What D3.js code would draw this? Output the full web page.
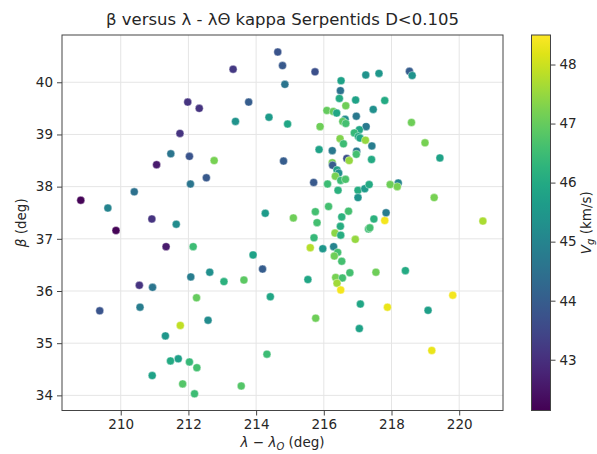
<!DOCTYPE html>
<html><head><meta charset="utf-8">
<script src="https://cdn.jsdelivr.net/npm/d3@7"></script>
<style>body{margin:0;background:#fff;} svg{display:block;font-family:"DejaVu Sans",sans-serif;}</style>
</head><body>
<svg id="c" width="597" height="454"></svg>
<script>
const lam = [214.64,214.78,213.32,214.85,211.98,212.32,213.78,213.39,214.38,214.93,211.75,211.48,212.03,211.06,212.76,214.81,212.53,212.06,210.40,208.82,209.62,210.92,211.64,209.86,214.27,215.10,211.34,212.14,213.91,214.19,212.07,212.63,213.05,213.64,210.55,210.94,212.24,214.42,209.38,210.57,212.58,211.76,211.32,214.32,211.47,211.70,212.03,212.25,210.93,211.83,213.56,212.18,
215.74,216.51,217.24,217.63,216.49,216.46,216.94,217.80,216.65,216.09,216.28,216.38,217.46,216.96,216.63,216.56,216.65,215.89,217.25,217.05,216.90,217.02,217.07,217.23,216.48,216.58,217.42,215.86,216.25,216.97,216.96,216.68,216.75,217.41,216.25,216.26,216.39,216.44,216.34,216.50,216.64,215.70,216.11,216.42,217.01,217.21,217.34,217.01,217.96,218.20,218.17,216.14,215.75,216.73,215.80,216.53,217.48,217.80,217.84,216.49,217.32,217.36,216.33,216.50,216.93,215.71,215.60,215.97,216.29,216.41,216.31,216.53,216.77,217.54,216.35,216.55,216.39,215.53,216.50,217.08,217.88,215.76,217.05,
218.53,218.61,218.59,218.99,219.43,219.26,220.70,218.41,219.81,219.08,219.19];
const beta = [40.58,40.32,40.25,39.96,39.62,39.50,39.62,39.25,39.33,39.20,39.02,38.63,38.58,38.42,38.50,38.49,38.17,38.05,37.90,37.74,37.59,37.38,37.28,37.16,37.49,37.40,36.85,36.85,36.69,36.42,36.27,36.36,36.18,36.21,36.11,36.07,35.87,35.89,35.62,35.69,35.44,35.34,35.14,34.79,34.66,34.70,34.64,34.53,34.38,34.22,34.18,34.03,
40.20,40.03,40.14,40.17,39.84,39.69,39.66,39.65,39.55,39.46,39.44,39.41,39.48,39.35,39.29,39.25,39.21,39.15,39.15,39.09,39.03,38.96,38.93,38.89,38.92,38.82,38.78,38.71,38.69,38.68,38.62,38.54,38.50,38.52,38.46,38.41,38.32,38.26,38.20,38.12,38.14,38.08,38.05,37.93,37.93,37.96,38.04,37.79,38.04,38.07,38.00,37.62,37.52,37.53,37.31,37.42,37.38,37.35,37.50,37.24,37.19,37.21,37.11,37.07,36.99,37.02,36.83,36.81,36.85,36.74,36.67,36.57,36.35,36.36,36.26,36.25,36.15,36.22,36.02,35.75,35.69,35.48,35.28,
40.21,40.13,39.23,38.84,38.55,37.79,37.34,36.39,35.92,35.63,34.86];
const vg = [43.8,43.9,43.2,44.6,43.1,43.1,44.0,45.4,45.6,45.9,43.1,44.6,43.8,42.6,47.2,44.0,43.9,44.6,44.5,42.2,45.0,43.1,45.2,42.2,45.6,47.1,42.6,46.5,45.8,44.0,44.8,45.3,46.2,46.9,43.1,44.6,47.0,45.9,43.8,44.8,45.2,47.9,45.5,46.5,46.0,45.7,46.4,46.6,45.8,46.8,46.8,46.5,
43.7,45.8,45.4,45.5,44.5,46.0,45.8,46.0,47.1,47.0,47.0,45.9,45.3,44.7,45.2,46.9,46.6,47.1,44.7,45.9,46.4,46.1,45.9,47.5,47.3,46.5,44.8,45.8,44.7,44.7,46.6,43.7,47.5,46.0,47.2,44.0,45.8,45.3,47.2,46.5,46.7,43.9,46.5,46.2,46.1,45.6,46.0,45.4,47.1,45.0,47.2,46.6,46.6,46.6,46.6,46.2,46.2,48.4,44.8,46.1,46.5,46.6,47.4,46.1,47.5,46.4,47.8,45.5,45.0,46.6,47.1,46.6,46.6,47.1,47.2,46.6,47.6,45.9,48.4,45.9,48.3,47.1,45.8,
44.0,45.4,47.1,47.2,45.8,47.2,47.7,46.0,48.4,45.7,48.3];
const xTicks = [210,212,214,216,218,220];
const yTicks = [34,35,36,37,38,39,40];
const cTicks = [43,44,45,46,47,48];
const xDomain = [208.265, 221.294];
const yDomain = [33.71, 40.906];
const cDomain = [42.14, 48.5];
const titleText = "β versus λ - λΘ kappa Serpentids D<0.105";

const svg = d3.select("#c");
const L=62, R=503, T=35, B=410.5;
const x = d3.scaleLinear().domain(xDomain).range([L,R]);
const y = d3.scaleLinear().domain(yDomain).range([B,T]);
const color = d3.scaleSequential(d3.interpolateViridis).domain(cDomain);
const txt = "#262626";

// grid
const g = svg.append("g");
g.selectAll(".gx").data(xTicks).join("line").attr("x1",d=>x(d)).attr("x2",d=>x(d)).attr("y1",T).attr("y2",B).attr("stroke","#e5e5e5").attr("stroke-width",1);
g.selectAll(".gy").data(yTicks).join("line").attr("y1",d=>y(d)).attr("y2",d=>y(d)).attr("x1",L).attr("x2",R).attr("stroke","#e5e5e5").attr("stroke-width",1);

// points
const pts = lam.map((d,i)=>({x:d,y:beta[i],v:vg[i]}));
svg.append("g").selectAll("circle").data(pts).join("circle")
  .attr("cx",d=>x(d.x)).attr("cy",d=>y(d.y)).attr("r",4)
  .attr("fill",d=>color(d.v)).attr("stroke","#fff").attr("stroke-width",0.5).attr("stroke-opacity",0.8);

// frame
svg.append("rect").attr("x",L).attr("y",T).attr("width",R-L).attr("height",B-T).attr("fill","none").attr("stroke","#444").attr("stroke-width",1);

// axes
const xa = svg.append("g").attr("transform",`translate(0,${B})`).call(d3.axisBottom(x).tickValues(xTicks).tickSize(5).tickPadding(4).tickFormat(d3.format("d")));
const ya = svg.append("g").attr("transform",`translate(${L},0)`).call(d3.axisLeft(y).tickValues(yTicks).tickSize(5).tickPadding(4).tickFormat(d3.format("d")));
[xa,ya].forEach(a=>{a.select(".domain").remove(); a.selectAll("line").attr("stroke","#444"); a.selectAll("text").attr("fill",txt).style("font-size","13.5px").style("font-family","DejaVu Sans");});

// title
svg.append("text").attr("x",(L+R)/2).attr("y",25).attr("text-anchor","middle").attr("fill",txt).style("font-size","16.5px").text(titleText);

// x label
const xl = svg.append("text").attr("x",(L+R)/2).attr("y",447).attr("text-anchor","middle").attr("fill",txt).style("font-size","13.5px");
xl.append("tspan").style("font-style","italic").text("λ");
xl.append("tspan").text(" − ");
xl.append("tspan").style("font-style","italic").text("λ");
xl.append("tspan").attr("dy",2.5).style("font-size","10px").style("font-style","italic").text("O");
xl.append("tspan").attr("dy",-2.5).text(" (deg)");

// y label
const yl = svg.append("text").attr("transform",`translate(26,${(T+B)/2}) rotate(-90)`).attr("text-anchor","middle").attr("fill",txt).style("font-size","13.5px");
yl.append("tspan").style("font-style","italic").text("β");
yl.append("tspan").text(" (deg)");

// colorbar
const CL=531.5, CR=550.5;
const cy = d3.scaleLinear().domain(cDomain).range([B,T]);
const defs = svg.append("defs");
const grad = defs.append("linearGradient").attr("id","vir").attr("x1","0").attr("y1","1").attr("x2","0").attr("y2","0");
d3.range(0,1.0001,0.05).forEach(t=>grad.append("stop").attr("offset",t).attr("stop-color",d3.interpolateViridis(t)));
svg.append("rect").attr("x",CL).attr("y",T).attr("width",CR-CL).attr("height",B-T).attr("fill","url(#vir)").attr("stroke","#444").attr("stroke-width",1);
const ca = svg.append("g").attr("transform",`translate(${CR},0)`).call(d3.axisRight(cy).tickValues(cTicks).tickSize(5).tickPadding(4).tickFormat(d3.format("d")));
ca.select(".domain").remove(); ca.selectAll("line").attr("stroke","#444"); ca.selectAll("text").attr("fill",txt).style("font-size","13.5px").style("font-family","DejaVu Sans");
const cl = svg.append("text").attr("transform",`translate(591,${(T+B)/2}) rotate(-90)`).attr("text-anchor","middle").attr("fill",txt).style("font-size","13.5px");
cl.append("tspan").style("font-style","italic").text("V");
cl.append("tspan").attr("dy",3).style("font-size","10px").style("font-style","italic").text("g");
cl.append("tspan").attr("dy",-3).text(" (km/s)");
</script>
</body></html>
